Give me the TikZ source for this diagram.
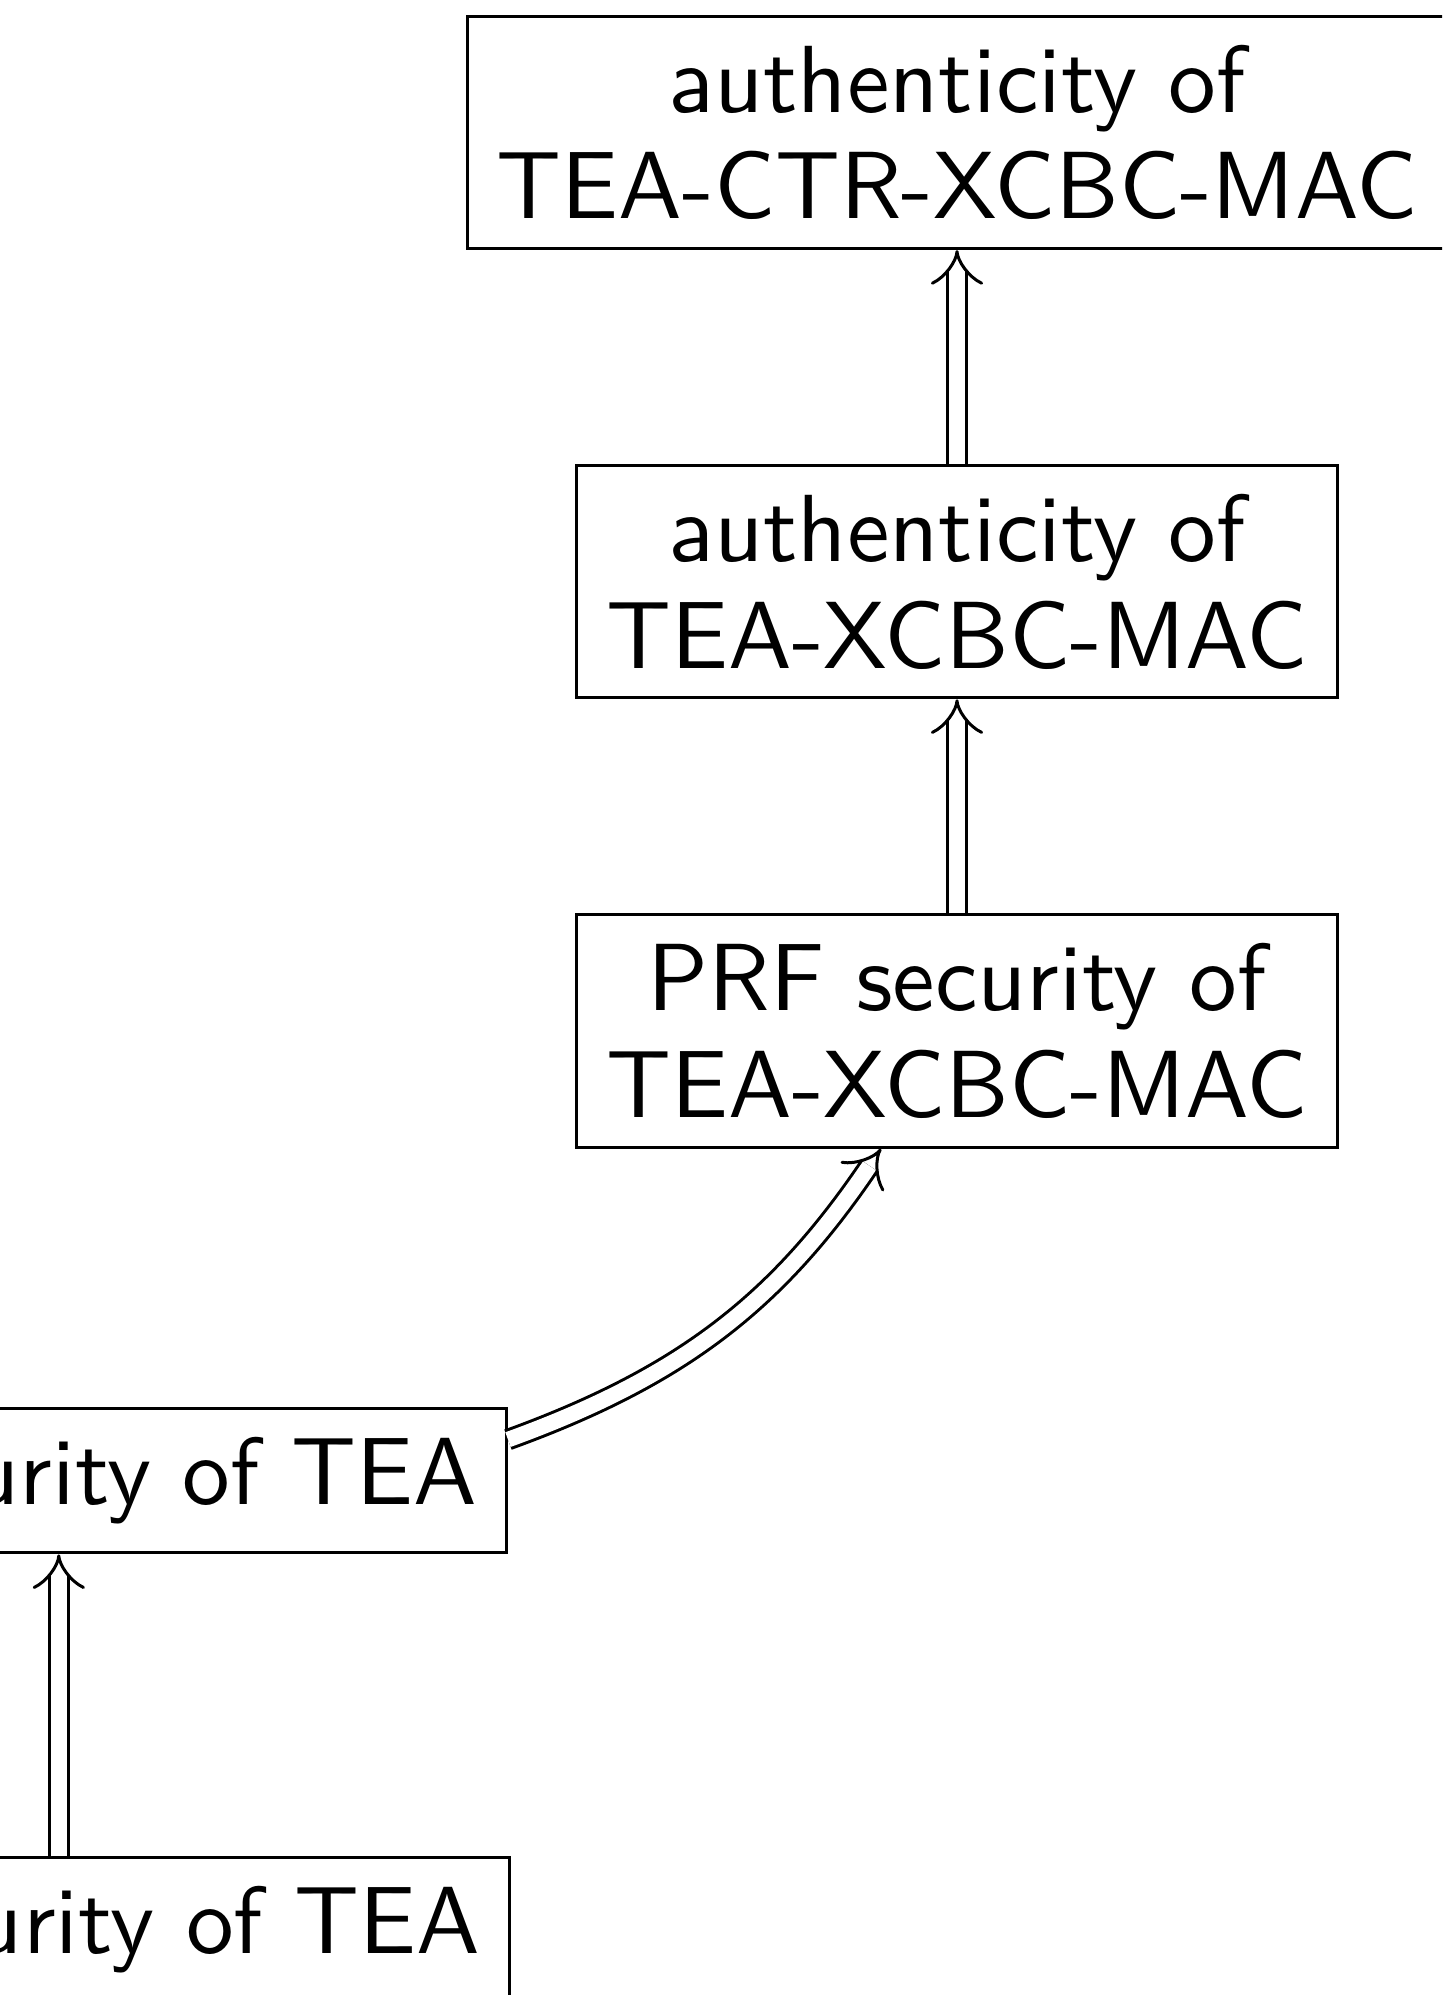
\documentclass[tikz,border=0pt]{standalone}
\usetikzlibrary{arrows.meta}
\tikzset{
  box/.style={draw, line width=1.5pt, scale=4.77, inner xsep=3.1pt, inner ysep=3.0pt, outer sep=0.157pt, align=center,
    font=\sffamily\fontsize{10}{11.2}\selectfont},
  imp/.style={double, double distance=7.8pt, line width=1.5pt, -{Implies[scale=1.3]}}
}
\begin{document}
\begin{tikzpicture}
\useasboundingbox (0,0) rectangle (721pt,-997.5pt);
\clip (0,0) rectangle (721pt,-997.5pt);
\node[box] (b1) at (478.5pt,-66.2pt) {authenticity of\\TEA-CTR-XCBC-MAC};
\node[box] (b2) at (478.5pt,-290.8pt) {authenticity of\\TEA-XCBC-MAC};
\node[box] (b3) at (478.5pt,-515.5pt) {PRF security of\\TEA-XCBC-MAC};
\node[box, anchor=east] (b4) at (254pt,-740.4pt) {PRF security of TEA};
\node[box, anchor=east] (b5) at (255.7pt,-965pt) {PRP security of TEA};
\draw[imp] (b2) -- (b1);
\draw[imp] (b3) -- (b2);
\draw[imp] (b5.north) -- (b5.north |- b4.south);
\draw[imp] ([yshift=20.6pt]b4.east) to[bend right=18] ([xshift=-38pt]b3.south);
\end{tikzpicture}
\end{document}
